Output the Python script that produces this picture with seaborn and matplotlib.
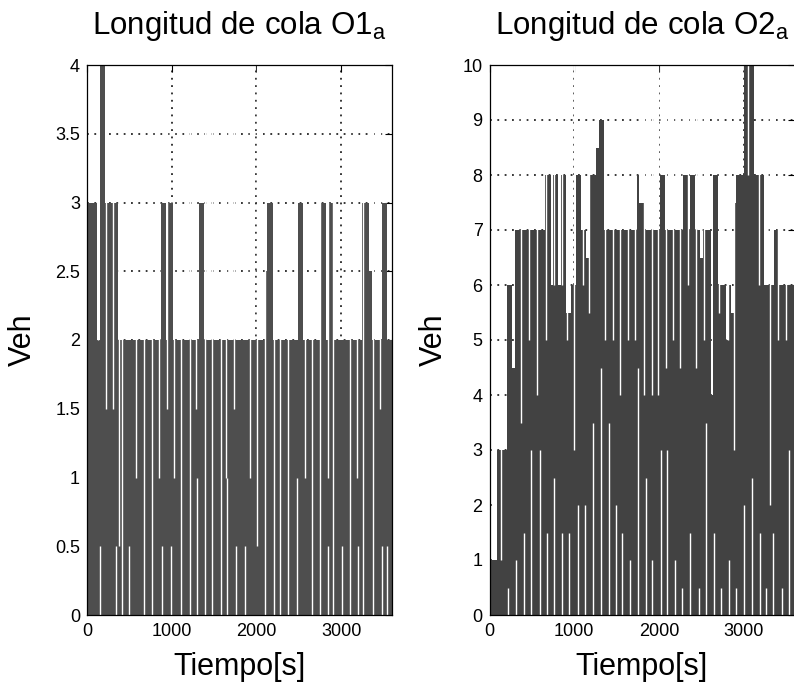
import numpy as np
import pandas as pd
import matplotlib
matplotlib.use("Agg")
import matplotlib.pyplot as plt
import seaborn as sns

# ---------------- data ----------------
STEP = 30                                   # s, sampling interval of the queue series
times = np.arange(0, 3600, STEP)            # bin start times [s]

# queue length O1_a (upper envelope per 30 s bin)
queue_o1 = [3, 3, 3, 3, 2, 4, 4, 3, 3, 3,
            3, 3, 2, 2, 2, 2, 2, 2, 2, 2,
            2, 2, 2, 2, 2, 2, 2, 2, 2, 3,
            3, 2, 3, 3, 2, 2, 2, 2, 2, 2,
            2, 2, 2, 2, 3, 3, 2, 2, 2, 2,
            2, 2, 2, 2, 2, 2, 2, 2, 2, 2,
            2, 2, 2, 2, 2, 2, 2, 2, 2, 2,
            2.5, 3, 3, 2, 2, 2, 2, 2, 2, 2,
            2, 2, 2, 3, 3, 2, 2, 2, 2, 2,
            2, 2, 3, 3, 2, 3, 3, 2, 2, 2,
            2, 2, 2, 2, 2, 2, 2, 2, 3, 3,
            3, 2.5, 2, 2, 2, 2, 3, 3, 2, 2]

# queue length O2_a (upper envelope per 30 s bin)
queue_o2 = [1, 1, 1, 3, 3, 3, 3, 6, 6, 4.5,
            7, 7, 7, 7, 7, 7, 7, 7, 7, 7,
            7, 7, 8, 8, 6, 8, 8, 6, 8, 8,
            5.5, 5.5, 6, 6, 8, 8, 7, 7, 6.5, 8,
            8, 8, 8.5, 9, 9, 7, 7, 7, 7, 7,
            7, 7, 7, 7, 7, 7, 7, 7, 8, 7.5,
            7.5, 7, 7, 7, 7, 7, 7, 8, 8, 7,
            7, 7, 7, 7, 7, 7, 8, 8, 7, 8,
            8, 7, 7, 6.5, 7, 7, 7, 4, 8, 8,
            6, 6, 6, 5, 6, 5.5, 7.5, 8, 8, 8,
            10, 10, 10, 10, 8, 8, 8, 8, 6, 6,
            6, 6, 7, 7, 6, 6, 6, 6, 6, 6]

# instants where the queue drops (white gaps): time, lower and upper level
gap1_t = [130, 157, 222, 302, 340, 375, 419, 497, 584, 674, 772, 850, 890, 941,
          988, 1027, 1105, 1215, 1282, 1301, 1387, 1478, 1576, 1646, 1654, 1733,
          1764, 1870, 1925, 2007, 2105, 2203, 2281, 2368, 2478, 2572, 2654, 2752,
          2839, 2850, 2909, 3007, 3105, 3191, 3203, 3262, 3380, 3454, 3477, 3536]
gap1_lo = [2, 0, 1.5, 1.5, 0, 0.5, 0, 0, 1, 0, 0, 1, 0, 1.5,
           0, 1, 0, 0, 1.5, 0, 0, 0, 0, 1, 0, 1.5,
           0, 0, 1, 0.5, 0, 0, 0, 0, 0, 1, 0, 0,
           1, 0, 0, 0, 0, 1, 0, 0, 0, 1.5, 0, 0]
gap1_hi = [4, 0.5, 4, 4, 0.5, 4, 4, 0.5, 4, 4, 4, 4, 0.5, 4,
           0.5, 4, 4, 4, 4, 1, 4, 4, 4, 4, 1, 4,
           0.5, 0.5, 4, 4, 4, 4, 4, 4, 1, 4, 4, 4,
           4, 0.5, 4, 0.5, 4, 4, 0.5, 4, 4, 4, 0.5, 0.5]

gap2_t = [137, 215, 313, 369, 411, 467, 490, 565, 593, 663, 676, 761, 765, 851,
          855, 910, 941, 1000, 1039, 1102, 1129, 1172, 1227, 1313, 1361, 1411,
          1455, 1490, 1545, 1568, 1635, 1658, 1721, 1752, 1819, 1843, 1913, 1921,
          1988, 2019, 2086, 2097, 2164, 2195, 2254, 2274, 2345, 2372, 2443, 2478,
          2529, 2560, 2646, 2705, 2736, 2811, 2822, 2881, 2913, 3000, 3048, 3097,
          3176, 3187, 3266, 3313, 3352, 3411, 3450, 3497, 3540]
gap2_lo = [1, 0, 0, 3.5, 0, 5, 0, 4, 0, 5, 0, 6, 0, 6,
           0, 5, 0, 3, 0, 6, 0, 5.5, 0, 0, 5, 0,
           5, 0, 4, 0, 5, 0, 5, 0, 4, 0, 4, 0,
           4, 0, 4.5, 0, 5, 0, 4.5, 0, 6, 0, 4.5, 0,
           5, 0, 0, 5.5, 0, 5, 0, 3, 0, 0, 8, 0,
           6, 0, 0, 2, 0, 5, 0, 5, 0]
gap2_hi = [10, 0.5, 1, 10, 1.5, 10, 3, 10, 3, 10, 1.5, 10, 2.5, 10,
           1.5, 10, 1.5, 10, 2, 10, 2, 10, 3.5, 4.5, 10, 3.5,
           10, 2, 10, 1.5, 10, 1, 10, 4.5, 10, 2.5, 10, 1,
           10, 3, 10, 3, 10, 1, 10, 0.5, 10, 1.5, 10, 0.5,
           10, 3.5, 1.5, 10, 0.5, 10, 1, 10, 0.5, 2, 10, 2.5,
           10, 1.5, 0.5, 10, 1.5, 10, 0.5, 10, 3]

xticks = [0, 1000, 2000, 3000]
xtick_labels = ["0", "1000", "2000", "3000"]
yticks1 = [0, 0.5, 1, 1.5, 2, 2.5, 3, 3.5, 4]
ytick_labels1 = ["0", "0.5", "1", "1.5", "2", "2.5", "3", "3.5", "4"]
yticks2 = [0, 1, 2, 3, 4, 5, 6, 7, 8, 9, 10]
ytick_labels2 = [str(v) for v in yticks2]

titles = ["Longitud de cola O1$_\\mathregular{a}$", "Longitud de cola O2$_\\mathregular{a}$"]

# ---------------- style ----------------
sns.set_theme(style="white")
plt.rcParams["font.family"] = ["Liberation Sans", "DejaVu Sans"]
plt.rcParams["mathtext.fontset"] = "custom"
plt.rcParams["mathtext.rm"] = "Liberation Sans"
plt.rcParams["mathtext.it"] = "Liberation Sans:italic"

W, H = 794, 685
fig = plt.figure(figsize=(W / 100, H / 100), dpi=100)
fig.patch.set_facecolor("white")

ax_w, ax_h = 305, 550
ax1 = fig.add_axes([87 / W, (H - 615) / H, ax_w / W, ax_h / H])
ax2 = fig.add_axes([489.5 / W, (H - 615) / H, ax_w / W, ax_h / H])


def panel(ax, q, gt, glo, ghi, color, ymax, yt, ytl, title, ylab_x):
    df = pd.DataFrame({"t": times + STEP / 2, "q": q})
    sns.barplot(data=df, x="t", y="q", native_scale=True, width=1.0,
                color=color, saturation=1, errorbar=None, linewidth=0,
                ax=ax, zorder=1)
    ax.vlines(gt, glo, ghi, colors="white", linewidth=1.0, zorder=2)
    ax.set_xlim(0, 3600)
    ax.set_ylim(0, ymax)
    ax.set_xticks(xticks, labels=xtick_labels)
    ax.set_yticks(yt, labels=ytl)
    ax.set_axisbelow(True)
    ax.grid(True, color="black", linestyle=(0, (1.2, 3.6)), linewidth=1.1)
    ax.tick_params(axis="both", direction="in", length=5, width=0.8,
                   top=True, right=True, labelsize=13, colors="black")
    ax.tick_params(axis="x", pad=6)
    ax.tick_params(axis="y", pad=5)
    for s in ax.spines.values():
        s.set_visible(True)
        s.set_color("black")
        s.set_linewidth(0.9)
        s.set_zorder(4)
    ax.set_xlabel("Tiempo[s]", fontsize=22, color="black")
    ax.xaxis.set_label_coords(0.5, -0.068)
    ax.set_ylabel("Veh", fontsize=22, color="black")
    ax.yaxis.set_label_coords(ylab_x, 0.5)
    ax.set_title(title, fontsize=22.5, pad=22, color="black")


panel(ax1, queue_o1, gap1_t, gap1_lo, gap1_hi, "#4e4e4e", 4,
      yticks1, ytick_labels1, titles[0], -0.161)
panel(ax2, queue_o2, gap2_t, gap2_lo, gap2_hi, "#424242", 10,
      yticks2, ytick_labels2, titles[1], -0.133)

fig.savefig("out.png", dpi=100, facecolor="white")
